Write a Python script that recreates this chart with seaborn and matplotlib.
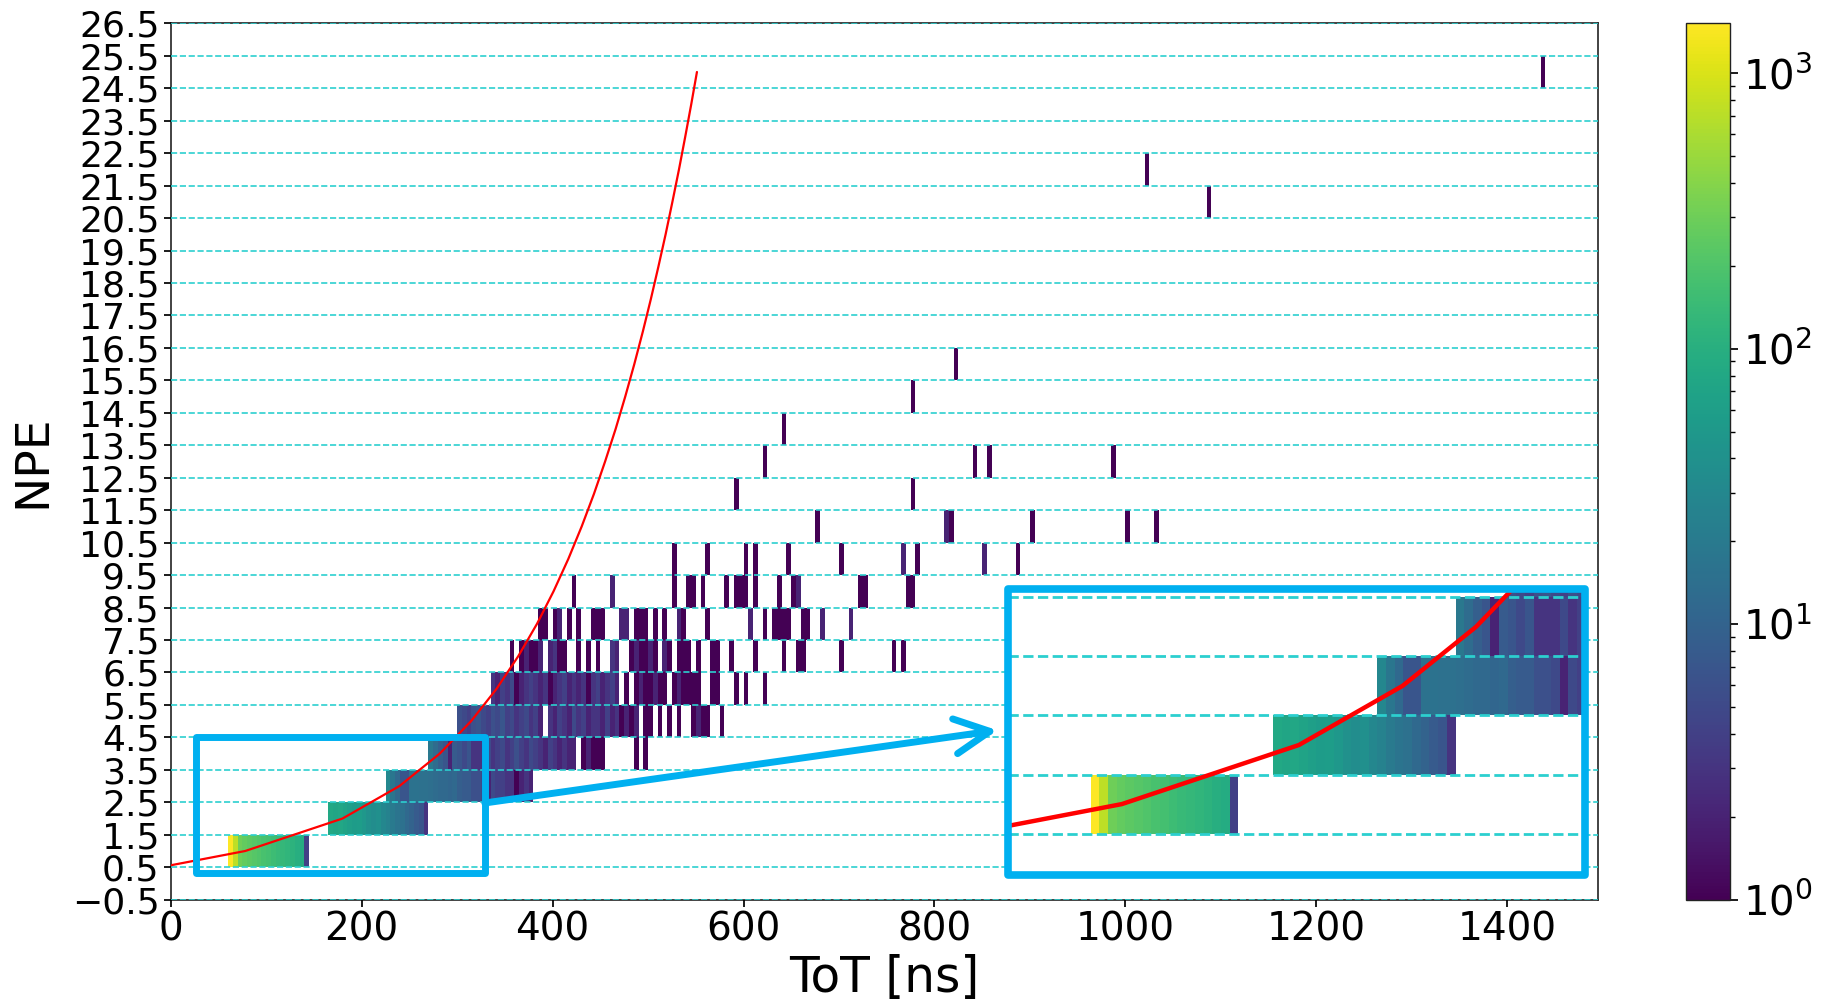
import numpy as np
import pandas as pd
import matplotlib
matplotlib.use("Agg")
import matplotlib.pyplot as plt
import seaborn as sns
from matplotlib.colors import LogNorm
from matplotlib.patches import Rectangle

# ---------------- data (ToT bin left edge [ns], counts) ----------------
npe1_tot = [60, 65, 70, 75, 80, 85, 90, 95, 100, 105, 110, 115, 120, 125, 130, 135, 140]
npe1_cnt = [1500, 730, 300, 260, 240, 220, 200, 180, 170, 150, 140, 130, 120, 110, 100, 92, 4]

npe2_tot = [165, 170, 175, 180, 185, 190, 195, 200, 205, 210, 215, 220, 225, 230, 235, 240,
            245, 250, 255, 260, 265]
npe2_cnt = [80, 75, 78, 70, 60, 55, 58, 50, 40, 35, 38, 30, 25, 20, 17, 15, 12, 10, 8, 7, 3]

npe3_tot = [225, 230, 235, 240, 245, 250, 255, 260, 265, 270, 275, 280, 285, 290, 295, 300,
            305, 310, 315, 320, 325, 330, 335, 340, 345, 350, 355, 360, 365, 370, 375]
npe3_cnt = [30, 18, 12, 7, 7, 16, 16, 15, 15, 14, 13, 12, 12, 11, 12, 9,
            8, 8, 6, 6, 5, 2, 5, 4, 4, 3, 3, 1, 2, 3, 2]

npe4_tot = [270, 275, 280, 285, 290, 295, 300, 305, 310, 315, 320, 325, 330, 335, 340, 345,
            350, 355, 360, 365, 370, 375, 380, 385, 390, 395, 400, 405, 410, 415, 420,
            430, 435, 440, 445, 450, 485, 495]
npe4_cnt = [19, 13, 9, 7, 2, 8, 7, 5, 7, 3, 3, 3, 5, 3, 4, 5,
            3, 4, 6, 4, 3, 5, 4, 3, 2, 4, 3, 2, 3, 2, 2,
            1, 2, 1, 1, 1, 1, 1]

npe5_tot = [300, 305, 310, 315, 320, 325, 330, 335, 340, 345, 350, 355, 360, 365, 370, 375,
            380, 385, 395, 400, 405, 410, 415, 420, 425, 430, 435, 440, 445, 450, 455, 460,
            465, 470, 475, 480, 485, 495, 500, 510, 520, 530, 545, 550, 555, 560, 575]
npe5_cnt = [6, 5, 4, 6, 7, 5, 4, 6, 5, 7, 4, 5, 3, 4, 5, 3,
            4, 2, 3, 2, 4, 3, 2, 5, 3, 4, 2, 3, 3, 2, 4, 2,
            3, 1, 2, 1, 2, 1, 1, 1, 1, 1, 1, 2, 1, 1, 1]

npe6_tot = [335, 340, 345, 350, 355, 360, 365, 370, 375, 380, 385, 390, 395, 400, 405, 410,
            415, 420, 425, 430, 435, 440, 445, 450, 455, 460, 465, 475, 485, 490, 495, 500,
            505, 510, 515, 525, 530, 535, 540, 545, 550, 565, 570, 590, 600, 620]
npe6_cnt = [3, 2, 4, 3, 5, 1, 2, 3, 4, 3, 2, 3, 1, 2, 3, 4,
            2, 3, 2, 3, 1, 3, 4, 2, 3, 4, 2, 1, 1, 2, 1, 1,
            2, 1, 1, 1, 2, 1, 1, 1, 1, 1, 1, 1, 1, 1]

npe7_tot = [355, 365, 370, 375, 380, 385, 395, 400, 405, 410, 425, 435, 445, 460, 465, 480,
            485, 490, 495, 500, 505, 515, 520, 530, 535, 540, 550, 565, 570, 585, 610, 640,
            655, 660, 700, 755, 765]
npe7_cnt = [1, 1, 2, 1, 1, 2, 2, 3, 1, 1, 1, 1, 1, 3, 2, 1,
            2, 1, 1, 2, 1, 2, 1, 1, 1, 1, 1, 1, 1, 1, 1, 1,
            1, 1, 1, 1, 1]

npe8_tot = [385, 390, 400, 405, 415, 425, 440, 445, 450, 470, 475, 485, 490, 495, 505, 515,
            530, 535, 560, 605, 620, 630, 635, 640, 645, 660, 665, 680, 710]
npe8_cnt = [1, 1, 1, 2, 1, 1, 1, 1, 1, 2, 2, 1, 1, 1, 1, 1,
            2, 1, 1, 2, 1, 1, 1, 1, 1, 1, 1, 2, 2]

npe9_tot = [420, 460, 525, 540, 545, 555, 580, 590, 595, 600, 610, 635, 650, 655, 720, 725, 770, 775]
npe9_cnt = [1, 2, 1, 1, 1, 1, 1, 1, 1, 1, 1, 1, 1, 2, 1, 1, 1, 1]

npe10_tot = [525, 560, 600, 610, 645, 700, 765, 780, 850, 885]
npe10_cnt = [1, 1, 1, 1, 1, 1, 2, 1, 2, 1]

npe11_tot = [675, 810, 815, 900, 1000, 1030]
npe11_cnt = [1, 2, 1, 1, 1, 1]

npe12_tot = [590, 775]
npe12_cnt = [1, 1]

npe13_tot = [620, 840, 855, 985]
npe13_cnt = [1, 1, 1, 1]

npe14_tot = [640]
npe14_cnt = [1]
npe15_tot = [775]
npe15_cnt = [1]
npe16_tot = [820]
npe16_cnt = [1]
npe21_tot = [1085]
npe21_cnt = [1]
npe22_tot = [1020]
npe22_cnt = [1]
npe25_tot = [1435]
npe25_cnt = [1]

# calibration curve (ToT vs NPE)
curve_tot = [0, 78.0, 179.9, 239.5, 281.8, 314.6, 341.4, 364.0, 383.7, 401.0, 416.5, 430.5,
             443.3, 455.0, 466.0, 476.1, 485.6, 494.5, 502.9, 510.8, 518.4, 525.5, 532.4,
             538.9, 545.2, 551.2]
curve_npe = [0.56, 1, 2, 3, 4, 5, 6, 7, 8, 9, 10, 11, 12, 13, 14, 15, 16, 17, 18, 19, 20,
             21, 22, 23, 24, 25]

xtick_vals = [0, 200, 400, 600, 800, 1000, 1200, 1400]

# ---------------- assemble ----------------
rows = [(1, npe1_tot, npe1_cnt), (2, npe2_tot, npe2_cnt), (3, npe3_tot, npe3_cnt),
        (4, npe4_tot, npe4_cnt), (5, npe5_tot, npe5_cnt), (6, npe6_tot, npe6_cnt),
        (7, npe7_tot, npe7_cnt), (8, npe8_tot, npe8_cnt), (9, npe9_tot, npe9_cnt),
        (10, npe10_tot, npe10_cnt), (11, npe11_tot, npe11_cnt), (12, npe12_tot, npe12_cnt),
        (13, npe13_tot, npe13_cnt), (14, npe14_tot, npe14_cnt), (15, npe15_tot, npe15_cnt),
        (16, npe16_tot, npe16_cnt), (21, npe21_tot, npe21_cnt), (22, npe22_tot, npe22_cnt),
        (25, npe25_tot, npe25_cnt)]
frames = []
for n, t, c in rows:
    frames.append(pd.DataFrame({"tot": np.asarray(t, float) + 2.5,
                                "npe": float(n), "count": np.asarray(c, float)}))
df = pd.concat(frames, ignore_index=True)

xedges = np.arange(0, 1500, 5)
yedges = np.arange(-0.5, 27.0, 1.0)
norm_max = 1520

sns.set_theme(style="ticks")
plt.rcParams["font.family"] = ["DejaVu Sans"]
plt.rcParams["axes.edgecolor"] = "#222222"
plt.rcParams["axes.linewidth"] = 1.2
plt.rcParams["text.color"] = "black"
plt.rcParams["axes.labelcolor"] = "black"
plt.rcParams["xtick.color"] = "black"
plt.rcParams["ytick.color"] = "black"

W, H = 1825, 1007
fig = plt.figure(figsize=(W / 100, H / 100), dpi=100)
ax = fig.add_axes([170.7 / W, 1 - 899.7 / H, (1598 - 170.7) / W, (899.7 - 23.3) / H])
cax = fig.add_axes([1686 / W, 1 - 899.7 / H, 44 / W, (899.7 - 23.3) / H])

GRID_C = "#2ccfcf"
BLUE = "#00b0f0"


def draw_hist(a):
    sns.histplot(data=df, x="tot", y="npe", weights="count", bins=(xedges, yedges),
                 cmap="viridis", ax=a, cbar=False)
    m = a.collections[-1]
    m.set_norm(LogNorm(vmin=1, vmax=norm_max))
    return m


mesh = draw_hist(ax)
sns.lineplot(x=curve_tot, y=curve_npe, ax=ax, color="red", lw=1.6, sort=False,
             estimator=None, zorder=3)
ax.set_xlim(0, 1495)
ax.set_ylim(-0.5, 26.5)
ax.set_yticks(np.arange(-0.5, 27.0, 1.0))
ax.set_xticks(xtick_vals)
ax.set_axisbelow(False)
ax.grid(axis="y", ls="--", color=GRID_C, lw=1.2)
ax.grid(axis="x", visible=False)
ax.tick_params(axis="y", labelsize=26, length=5, pad=3)
ax.tick_params(axis="x", labelsize=28, length=5, pad=3)
ax.set_xlabel("ToT [ns]", fontsize=35, labelpad=4)
ax.set_ylabel("NPE", fontsize=34, labelpad=12)

# zoom rectangle and arrow
ax.add_patch(Rectangle((27, 0.32), 302, 4.18, fill=False, ec=BLUE, lw=5,
                       joinstyle="round", zorder=6))
ax.annotate("", xy=(866, 4.72), xytext=(329, 2.48),
            arrowprops=dict(arrowstyle="->,head_length=0.9,head_width=0.45", lw=5,
                            color=BLUE, mutation_scale=28, shrinkA=0, shrinkB=0),
            zorder=6)

# colorbar
cb = fig.colorbar(mesh, cax=cax)
cb.ax.tick_params(labelsize=29, length=6)
cb.ax.tick_params(which="minor", length=3.5)
cb.outline.set_linewidth(1.0)

# inset
ins = fig.add_axes([1008 / W, 1 - 875 / H, 577 / W, 286 / H])
draw_hist(ins)
sns.lineplot(x=curve_tot, y=curve_npe, ax=ins, color="red", lw=3.2, sort=False,
             estimator=None, zorder=3)
ins.set_xlim(12.5, 344.5)
ins.set_ylim(-0.2, 4.64)
ins.set_yticks([0.5, 1.5, 2.5, 3.5, 4.5])
ins.set_axisbelow(False)
ins.grid(axis="y", ls="--", color=GRID_C, lw=2.0)
ins.grid(axis="x", visible=False)
ins.tick_params(left=False, bottom=False, labelleft=False, labelbottom=False)
ins.set_xlabel("")
ins.set_ylabel("")
for s in ins.spines.values():
    s.set_visible(False)
ins.add_patch(Rectangle((0, 0), 1, 1, transform=ins.transAxes, fill=False, ec=BLUE,
                        lw=5.5, joinstyle="round", clip_on=False, zorder=10))

fig.savefig("out.png", dpi=100)
